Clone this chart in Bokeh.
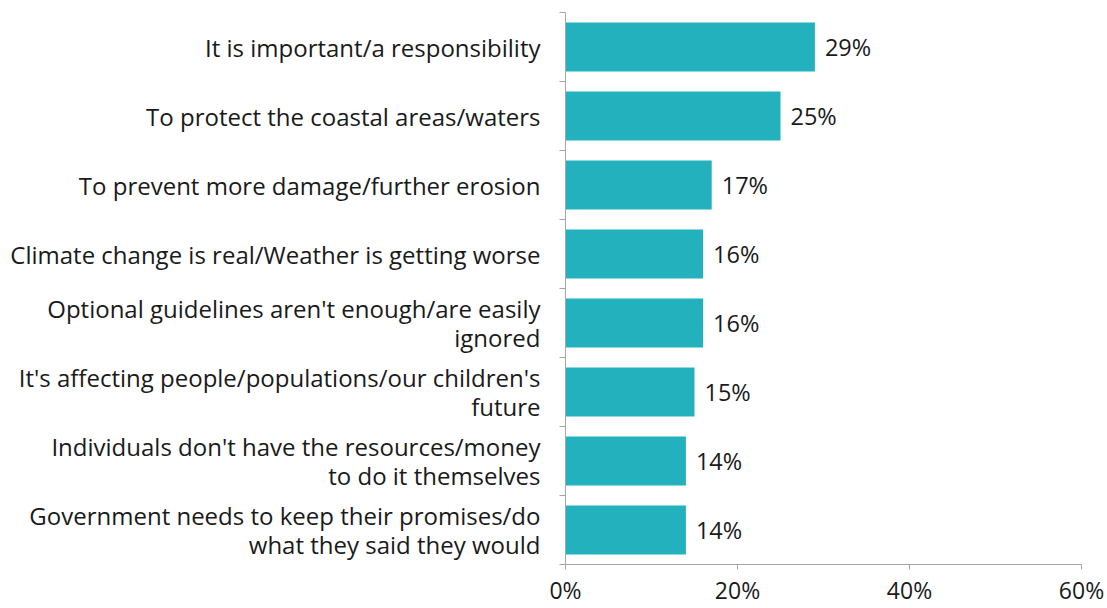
from bokeh.plotting import figure
from bokeh.models import FixedTicker, NumeralTickFormatter, Range1d, ColumnDataSource
from bokeh.embed import file_html
from bokeh.resources import INLINE
from bokeh.core.properties import value

categories = [
    "It is important/a responsibility",
    "To protect the coastal areas/waters",
    "To prevent more damage/further erosion",
    "Climate change is real/Weather is getting worse",
    "Optional guidelines aren't enough/are easily\nignored",
    "It's affecting people/populations/our children's\nfuture",
    "Individuals don't have the resources/money\nto do it themselves",
    "Government needs to keep their promises/do\nwhat they said they would",
]
values = [29, 25, 17, 16, 16, 15, 14, 14]
x_ticks = [0, 20, 40, 60]

FONT = "Open Sans"
n = len(categories)
# position 0 at top
ypos = [n - 0.5 - i for i in range(n)]
pct = [v / 100 for v in values]

src = ColumnDataSource(dict(y=ypos, v=pct, lab=[f"{v}%" for v in values]))

p = figure(width=1107, height=608, output_backend="svg", toolbar_location=None,
           x_range=Range1d(0, 0.6), y_range=Range1d(0, n),
           min_border_left=565, min_border_right=26, min_border_top=12, min_border_bottom=44)
p.outline_line_color = None
p.grid.grid_line_color = None
p.background_fill_color = "white"
p.border_fill_color = "white"

p.hbar(y="y", right="v", left=0, height=0.71, source=src, color="#23B1BD", line_color=None)
p.text(x="v", y="y", text="lab", source=src, x_offset=10, text_baseline="middle",
       text_font=value(FONT), text_font_size="23.5px", text_color="#1a1a1a")

# x axis
p.xaxis.ticker = FixedTicker(ticks=[t / 100 for t in x_ticks])
p.xaxis.formatter = NumeralTickFormatter(format="0%")
p.xaxis.axis_line_color = "#a6a6a6"
p.xaxis.major_tick_line_color = "#a6a6a6"
p.xaxis.major_tick_out = 5
p.xaxis.major_tick_in = 0
p.xaxis.minor_tick_line_color = None
p.xaxis.major_label_text_font = FONT
p.xaxis.major_label_text_font_size = "23px"
p.xaxis.major_label_text_color = "#1a1a1a"
p.xaxis.major_label_standoff = 4

# y axis: labels at centres, ticks at boundaries (minor ticks)
p.yaxis.ticker = FixedTicker(ticks=ypos, minor_ticks=list(range(n + 1)))
p.yaxis.major_label_overrides = {y: c for y, c in zip(ypos, categories)}
p.yaxis.axis_line_color = "#a6a6a6"
p.yaxis.major_tick_line_color = None
p.yaxis.major_tick_out = 0
p.yaxis.major_tick_in = 0
p.yaxis.minor_tick_line_color = "#a6a6a6"
p.yaxis.minor_tick_out = 6
p.yaxis.minor_tick_in = 0
p.yaxis.major_label_text_font = FONT
p.yaxis.major_label_text_font_size = "24px"
p.yaxis.major_label_text_line_height = 0.86
p.yaxis.major_label_text_color = "#1a1a1a"
p.yaxis.major_label_standoff = 19

open("out.html", "w").write(file_html(p, INLINE))
